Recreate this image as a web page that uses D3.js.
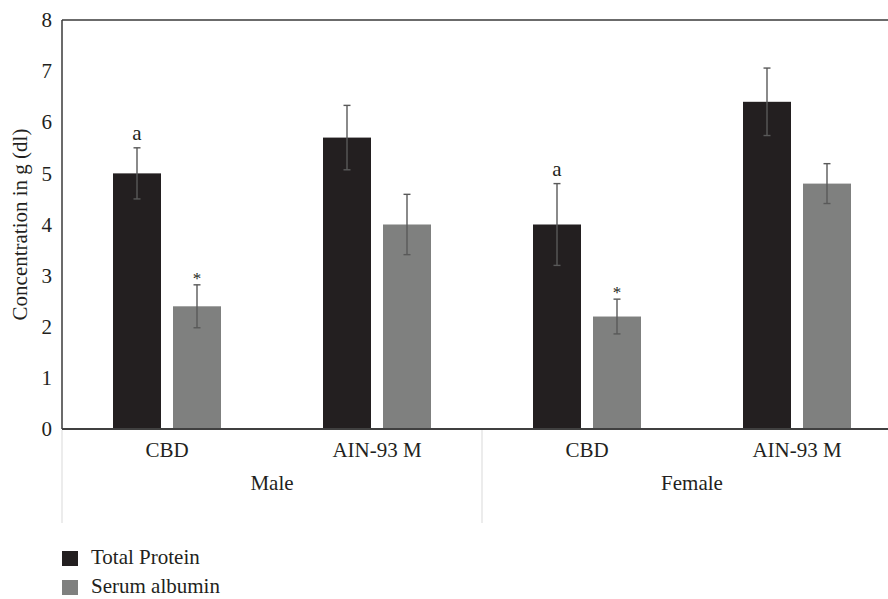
<!DOCTYPE html>
<html>
<head>
<meta charset="utf-8">
<script src="https://d3js.org/d3.v7.min.js"></script>
<style>
  body { margin: 0; background: #fff; }
  text { font-family: "Liberation Serif", "DejaVu Serif", serif; fill: #231f20; }
</style>
</head>
<body>
<script>
// chart values
var sexes = ["Male", "Female"];
var diets = ["CBD", "AIN-93 M"];
var seriesNames = ["Total Protein", "Serum albumin"];
var seriesColors = ["#231f20", "#7f807f"];
var totalProtein = [5.0, 5.7, 4.0, 6.4];
var totalProteinErr = [0.5, 0.63, 0.8, 0.66];
var serumAlbumin = [2.4, 4.0, 2.2, 4.8];
var serumAlbuminErr = [0.42, 0.59, 0.34, 0.39];
var totalProteinMark = ["a", "", "a", ""];
var serumAlbuminMark = ["*", "", "*", ""];
var yTicks = [0, 1, 2, 3, 4, 5, 6, 7, 8];

var width = 888, height = 599;
var plotL = 62, plotT = 20, plotB = 429, plotR = 902;
var fs = "21px";

var svg = d3.select("body").append("svg")
    .attr("width", width)
    .attr("height", height);

// one slot per sex/diet pair
var slots = [];
sexes.forEach(function (s) {
  diets.forEach(function (d) { slots.push(s + "|" + d); });
});

var x0 = d3.scaleBand().domain(slots).range([plotL, plotR]);
var x1 = d3.scaleBand().domain(seriesNames)
    .range([0, x0.bandwidth()])
    .paddingInner(0.2)
    .paddingOuter(0.85);
var xSex = d3.scaleBand().domain(sexes).range([plotL, plotR]);
var y = d3.scaleLinear().domain([0, 8]).range([plotB, plotT]);

var rows = slots.map(function (k, i) {
  return {
    key: k,
    values: [
      { name: seriesNames[0], v: totalProtein[i], e: totalProteinErr[i], m: totalProteinMark[i] },
      { name: seriesNames[1], v: serumAlbumin[i], e: serumAlbuminErr[i], m: serumAlbuminMark[i] }
    ]
  };
});

// frame: left and top
svg.append("line")
    .attr("x1", plotL).attr("x2", plotL)
    .attr("y1", plotT).attr("y2", plotB)
    .attr("stroke", "#3a3a3a").attr("stroke-width", 1.5);
svg.append("line")
    .attr("x1", plotL).attr("x2", width)
    .attr("y1", plotT).attr("y2", plotT)
    .attr("stroke", "#3a3a3a").attr("stroke-width", 1.5);

// y axis labels
var yAxis = d3.axisLeft(y).tickValues(yTicks).tickSize(0).tickPadding(10);
var gy = svg.append("g").attr("transform", "translate(" + plotL + ",0)").call(yAxis);
gy.select(".domain").remove();
gy.selectAll("text").style("font-size", fs)
    .style("font-family", "'Liberation Serif', serif").attr("fill", "#231f20");

svg.append("text")
    .attr("transform", "translate(27," + ((plotT + plotB) / 2) + ") rotate(-90)")
    .attr("text-anchor", "middle")
    .style("font-size", fs)
    .text("Concentration in g (dl)");

// bars
var g = svg.selectAll(".slot").data(rows).enter().append("g")
    .attr("class", "slot")
    .attr("transform", function (d) { return "translate(" + x0(d.key) + ",0)"; });

g.selectAll("rect").data(function (d) { return d.values; }).enter().append("rect")
    .attr("x", function (d) { return x1(d.name); })
    .attr("y", function (d) { return y(d.v); })
    .attr("width", x1.bandwidth())
    .attr("height", function (d) { return y(0) - y(d.v); })
    .attr("fill", function (d, i) { return seriesColors[i]; });

// error bars
var eb = g.selectAll(".err").data(function (d) { return d.values; }).enter().append("g")
    .attr("class", "err")
    .attr("transform", function (d) { return "translate(" + (x1(d.name) + x1.bandwidth() / 2) + ",0)"; })
    .attr("stroke", "#595959").attr("stroke-width", 1.4);
eb.append("line").attr("y1", function (d) { return y(d.v + d.e); }).attr("y2", function (d) { return y(d.v - d.e); });
eb.append("line").attr("x1", -3.5).attr("x2", 3.5)
    .attr("y1", function (d) { return y(d.v + d.e); }).attr("y2", function (d) { return y(d.v + d.e); });
eb.append("line").attr("x1", -3.5).attr("x2", 3.5)
    .attr("y1", function (d) { return y(d.v - d.e); }).attr("y2", function (d) { return y(d.v - d.e); });

// significance marks
g.selectAll(".mark").data(function (d) { return d.values; }).enter().append("text")
    .attr("class", "mark")
    .attr("x", function (d) { return x1(d.name) + x1.bandwidth() / 2; })
    .attr("y", function (d) { return y(d.v + d.e) - (d.m === "*" ? 1 : 8); })
    .attr("text-anchor", "middle")
    .style("font-size", function (d) { return d.m === "*" ? "17px" : fs; })
    .text(function (d) { return d.m; });

// x axis line
svg.append("line")
    .attr("x1", plotL).attr("x2", width)
    .attr("y1", plotB).attr("y2", plotB)
    .attr("stroke", "#404040").attr("stroke-width", 2);

// category dividers
[plotL, xSex(sexes[1])].forEach(function (xx) {
  svg.append("line")
      .attr("x1", xx).attr("x2", xx)
      .attr("y1", plotB + 1).attr("y2", 523)
      .attr("stroke", "#d9d9d9").attr("stroke-width", 1);
});

// diet labels
svg.selectAll(".diet").data(slots).enter().append("text")
    .attr("x", function (d) { return x0(d) + x0.bandwidth() / 2; })
    .attr("y", 457)
    .attr("text-anchor", "middle")
    .style("font-size", fs)
    .text(function (d) { return d.split("|")[1]; });

// sex labels
svg.selectAll(".sex").data(sexes).enter().append("text")
    .attr("x", function (d) { return xSex(d) + xSex.bandwidth() / 2; })
    .attr("y", 490)
    .attr("text-anchor", "middle")
    .style("font-size", fs)
    .text(function (d) { return d; });

// legend
var lg = svg.selectAll(".leg").data(seriesNames).enter().append("g")
    .attr("transform", function (d, i) { return "translate(62," + (551 + i * 29) + ")"; });
lg.append("rect").attr("width", 16).attr("height", 15)
    .attr("fill", function (d, i) { return seriesColors[i]; });
lg.append("text").attr("x", 29).attr("y", 13)
    .style("font-size", fs)
    .text(function (d) { return d; });
</script>
</body>
</html>
